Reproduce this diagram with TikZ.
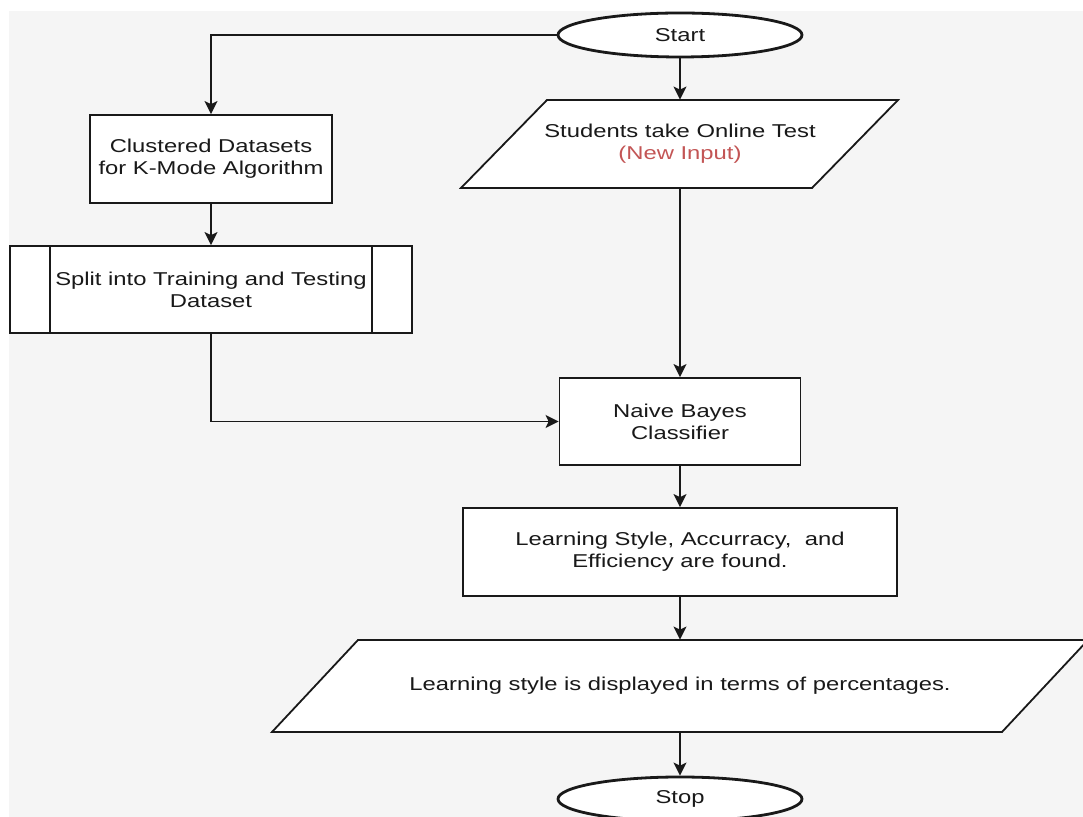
\documentclass[tikz,border=0pt]{standalone}
\usepackage{fontspec}
\setmainfont{Liberation Sans}[FakeStretch=1.28]
\usetikzlibrary{shapes.geometric,arrows.meta}
\definecolor{bg}{RGB}{245,245,245}
\definecolor{ln}{RGB}{25,25,25}
\definecolor{inred}{RGB}{195,85,85}
\tikzset{
  every node/.style={font=\fontsize{9.3}{11}\selectfont, text=ln},
  term/.style={ellipse, draw=ln, line width=1.4pt, fill=white, minimum width=122pt, minimum height=22pt, inner sep=0pt},
  proc/.style={rectangle, draw=ln, line width=0.9pt, fill=white, align=center, inner sep=0pt},
  io/.style={draw=ln, line width=0.9pt, fill=white, line join=miter},
  lbl/.style={rectangle, align=center, inner sep=0pt},
  flow/.style={draw=ln, line width=0.9pt, -{Stealth[length=6.5pt,width=6.5pt,inset=1.5pt]}},
}
\begin{document}
\begin{tikzpicture}[x=0.5pt,y=-0.5pt]
\useasboundingbox (0,0) rectangle (1083,817);
\fill[white] (0,0) rectangle (1083,817);
\fill[bg] (9,11) rectangle (1083,817);

% terminals
\node[term] (start) at (680,35) {Start};
\node[term] (stop) at (680,799) {Stop};

% left column
\node[proc, minimum width=121pt, minimum height=44pt] (clus) at (211,159) {Clustered Datasets\\for K-Mode Algorithm};
\node[proc, minimum width=201pt, minimum height=43.5pt] (split) at (211,289.5) {Split into Training and Testing\\Dataset};
\draw[draw=ln, line width=0.9pt] ([xshift=20.5pt]split.north west) -- ([xshift=20.5pt]split.south west);
\draw[draw=ln, line width=0.9pt] ([xshift=-20.5pt]split.north east) -- ([xshift=-20.5pt]split.south east);

% input parallelogram
\draw[io] (461,188) -- (547,100) -- (898,100) -- (812,188) -- cycle;
\node[lbl, minimum width=218.5pt, minimum height=44pt] (inp) at (680,144) {Students take Online Test\\\textcolor{inred}{(New Input)}};

% right column
\node[proc, minimum width=120.5pt, minimum height=43.5pt] (naive) at (680,421.5) {Naive Bayes\\Classifier};
\node[proc, minimum width=217pt, minimum height=44pt] (learn) at (680,552) {Learning Style, Accurracy,\ \ and\\Efficiency are found.};

% output parallelogram
\draw[io] (272,732) -- (358,640) -- (1088,640) -- (1002,732) -- cycle;
\node[lbl, minimum width=100pt, minimum height=46pt] (out) at (680,686) {Learning style is displayed in terms of percentages.};

% connectors
\draw[flow] (start.west) -| (clus.north);
\draw[flow] (start.south) -- (inp.north);
\draw[flow] (clus.south) -- (split.north);
\draw[flow] (split.south) |- (naive.west);
\draw[flow] (inp.south) -- (naive.north);
\draw[flow] (naive.south) -- (learn.north);
\draw[flow] (learn.south) -- (out.north);
\draw[flow] (out.south) -- (stop.north);
\end{tikzpicture}
\end{document}
